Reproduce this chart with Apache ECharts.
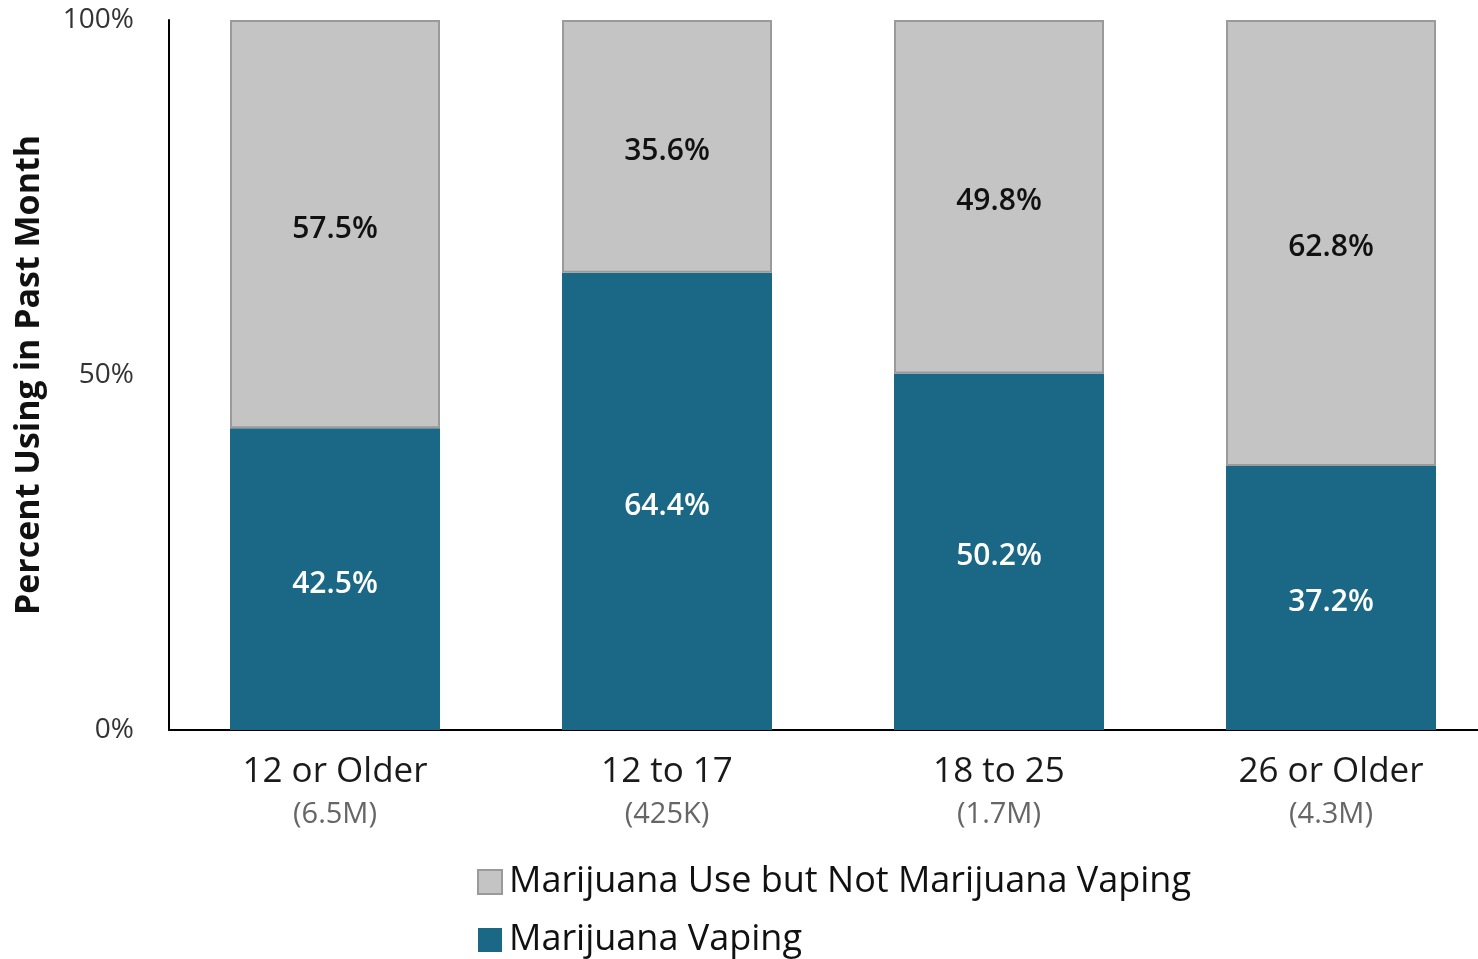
<!DOCTYPE html>
<html>
<head>
<meta charset="utf-8">
<script src="https://cdn.jsdelivr.net/npm/echarts@6/dist/echarts.min.js"></script>
<style>
html,body{margin:0;padding:0;background:#fff;}
#chart{width:1478px;height:959px;}
</style>
</head>
<body>
<div id="chart"></div>
<script>
const categories = ['12 or Older', '12 to 17', '18 to 25', '26 or Older'];
const sampleSizes = ['(6.5M)', '(425K)', '(1.7M)', '(4.3M)'];
const vapingValues = [42.5, 64.4, 50.2, 37.2];
const useNotVapingValues = [57.5, 35.6, 49.8, 62.8];
const seriesNames = ['Marijuana Use but Not Marijuana Vaping', 'Marijuana Vaping'];
const yTicks = [0, 50, 100];

const FONT = '"Open Sans", "Noto Sans", sans-serif';
const chart = echarts.init(document.getElementById('chart'));
chart.setOption({
  animation: false,
  textStyle: { fontFamily: FONT },
  grid: { left: 169, top: 20, width: 1328, bottom: 229, containLabel: false, outerBoundsMode: 'none' },
  legend: {
    orient: 'vertical',
    left: 472,
    top: 859,
    height: 120,
    itemGap: 22,
    itemWidth: 24,
    itemHeight: 24,
    icon: 'rect',
    data: seriesNames,
    textStyle: { fontSize: 36, color: '#111', fontFamily: FONT, padding: [0, 0, 0, 2] }
  },
  xAxis: {
    type: 'category',
    data: categories,
    axisLine: { lineStyle: { color: '#000', width: 2 } },
    axisTick: { show: false },
    axisLabel: {
      margin: 20,
      formatter: function (v, i) { return '{a|' + v + '}\n{b|' + sampleSizes[i] + '}'; },
      rich: {
        a: { fontSize: 35, color: '#1a1a1a', fontFamily: FONT, lineHeight: 44 },
        b: { fontSize: 29, color: '#666', fontFamily: FONT, lineHeight: 42 }
      }
    }
  },
  yAxis: {
    type: 'value',
    min: 0,
    max: 100,
    interval: 50,
    name: 'Percent Using in Past Month',
    nameLocation: 'middle',
    nameGap: 123,
    nameTextStyle: { fontSize: 34, fontWeight: 'bold', color: '#111', fontFamily: FONT },
    axisLine: { show: true, lineStyle: { color: '#000', width: 2 } },
    axisTick: { show: false },
    splitLine: { show: false },
    axisLabel: {
      margin: 35,
      fontSize: 28,
      color: '#333',
      fontFamily: FONT,
      formatter: function (v) { return yTicks.indexOf(v) >= 0 ? v + '%' : ''; }
    }
  },
  series: [
    {
      name: seriesNames[1],
      type: 'bar',
      stack: 'total',
      barWidth: 210,
      data: vapingValues,
      itemStyle: { color: '#1b6886' },
      label: {
        show: true,
        position: 'inside',
        offset: [0, 5],
        formatter: '{c}%',
        fontSize: 30,
        fontWeight: 600,
        color: '#fff',
        fontFamily: FONT
      }
    },
    {
      name: seriesNames[0],
      type: 'bar',
      stack: 'total',
      barWidth: 210,
      data: useNotVapingValues,
      itemStyle: { color: '#c4c4c4', borderColor: '#9a9a9a', borderWidth: 2 },
      label: {
        show: true,
        position: 'inside',
        offset: [0, 5],
        formatter: '{c}%',
        fontSize: 30,
        fontWeight: 600,
        color: '#111',
        fontFamily: FONT
      }
    }
  ]
});
</script>
</body>
</html>
